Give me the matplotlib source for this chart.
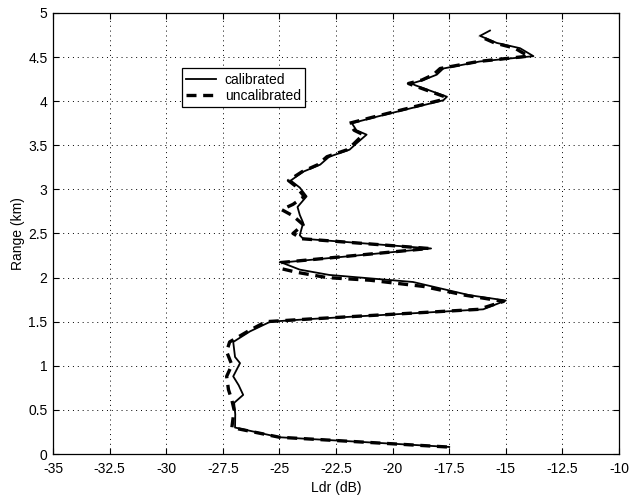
import matplotlib
matplotlib.use("Agg")
import matplotlib.pyplot as plt

plt.rcParams['font.family'] = ['Liberation Sans', 'DejaVu Sans']

# Calibrated (solid) profile
cal_range = [0.08, 0.19, 0.30, 0.45, 0.58, 0.67, 0.78, 0.88, 1.03, 1.10, 1.27, 1.39, 1.50, 1.53,
             1.64, 1.74, 1.80, 1.95, 2.03, 2.09, 2.17, 2.33, 2.44, 2.48, 2.62, 2.71, 2.80, 2.92,
             3.02, 3.10, 3.20, 3.28, 3.37, 3.45, 3.52, 3.62, 3.67, 3.75, 3.83, 4.01, 4.05, 4.18,
             4.20, 4.24, 4.30, 4.37, 4.45, 4.51, 4.60, 4.66, 4.74, 4.80]
cal_ldr = [-17.5, -25.0, -26.96, -26.95, -27.0, -26.6, -26.8, -27.04, -26.74, -26.96, -27.04, -26.3,
           -25.4, -23.65, -16.0, -15.0, -16.6, -19.1, -22.8, -24.1, -24.9, -18.3, -23.95, -24.1,
           -23.95, -24.1, -24.2, -23.8, -24.1, -24.5, -23.95, -23.2, -22.8, -21.9, -21.6, -21.15,
           -21.6, -21.8, -20.6, -17.76, -17.6, -19.0, -19.16, -18.64, -18.05, -17.76, -16.14, -13.78,
           -14.37, -15.4, -16.14, -15.7]

# Uncalibrated (dashed) profile
unc_range = [0.08, 0.19, 0.30, 0.50, 0.61, 0.73, 0.88, 1.01, 1.16, 1.27, 1.39, 1.50, 1.53, 1.64,
             1.73, 1.80, 1.90, 1.97, 2.00, 2.06, 2.10, 2.17, 2.33, 2.44, 2.50, 2.60, 2.70, 2.77,
             2.83, 2.92, 3.04, 3.10, 3.20, 3.28, 3.37, 3.45, 3.52, 3.62, 3.67, 3.75, 3.83, 4.01,
             4.05, 4.18, 4.20, 4.24, 4.30, 4.37, 4.45, 4.51, 4.60, 4.66, 4.74]
unc_ldr = [-17.6, -25.0, -27.1, -27.0, -27.1, -27.25, -27.33, -27.1, -27.33, -27.2, -26.4, -25.6,
           -23.7, -16.2, -15.1, -16.8, -18.65, -21.0, -22.9, -24.24, -24.9, -24.95, -18.4, -24.0,
           -24.4, -23.95, -24.4, -24.9, -24.4, -23.9, -24.3, -24.6, -24.0, -23.3, -22.9, -22.0,
           -21.7, -21.3, -21.7, -21.9, -20.7, -17.9, -17.7, -19.1, -19.3, -18.7, -18.2, -17.9,
           -16.2, -14.0, -14.6, -15.5, -16.2]

x_ticks = [-35, -32.5, -30, -27.5, -25, -22.5, -20, -17.5, -15, -12.5, -10]
x_ticklabels = ['-35', '-32.5', '-30', '-27.5', '-25', '-22.5', '-20', '-17.5', '-15', '-12.5', '-10']
y_ticks = [0, 0.5, 1, 1.5, 2, 2.5, 3, 3.5, 4, 4.5, 5]
y_ticklabels = ['0', '0.5', '1', '1.5', '2', '2.5', '3', '3.5', '4', '4.5', '5']

fig = plt.figure(figsize=(6.31, 4.97), dpi=100)
ax = fig.add_axes([0.084, 0.0865, 0.897, 0.8875])

ax.plot(cal_ldr, cal_range, color='black', linewidth=1.3, linestyle='-', label='calibrated')
ax.plot(unc_ldr, unc_range, color='black', linewidth=2.4, linestyle=(0, (3, 2)), label='uncalibrated')

ax.set_xlim(-35, -10)
ax.set_ylim(0, 5)
ax.set_xticks(x_ticks)
ax.set_xticklabels(x_ticklabels)
ax.set_yticks(y_ticks)
ax.set_yticklabels(y_ticklabels)
ax.tick_params(direction='in', top=True, right=True, labelsize=10, length=4, color='black')
ax.tick_params(axis='x', pad=6)
ax.tick_params(axis='y', pad=4)
ax.grid(True, linestyle=(0, (1, 4)), color='black', linewidth=0.7)
for s in ax.spines.values():
    s.set_linewidth(0.9)

ax.set_xlabel('Ldr (dB)', fontsize=10, labelpad=3)
ax.set_ylabel('Range (km)', fontsize=10, labelpad=2)

leg = ax.legend(loc='upper left', bbox_to_anchor=(0.215, 0.89), fontsize=10,
                frameon=True, fancybox=False, edgecolor='black', framealpha=1,
                handlelength=2.2, borderpad=0.3, labelspacing=0.2, handletextpad=0.6)
leg.get_frame().set_linewidth(0.9)

fig.savefig('out.png', dpi=100)
